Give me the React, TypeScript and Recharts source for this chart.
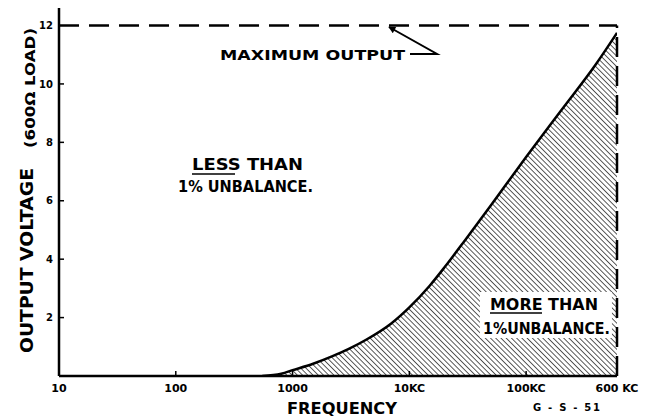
import { AreaChart, Area, XAxis, YAxis, ReferenceLine, ReferenceArea } from "recharts";

// frequency (Hz) vs max output voltage for < 1% unbalance
const FREQS = [550, 800, 1000, 1500, 2200, 3000, 4300, 7000, 10000, 15000, 20000, 30000, 50000, 100000, 200000, 400000, 600000];
const VOLTS = [0, 0.08, 0.2, 0.42, 0.68, 0.92, 1.25, 1.8, 2.35, 3.1, 3.72, 4.65, 5.85, 7.5, 9.1, 10.7, 11.75];

const X_TICKS = [10, 100, 1000, 10000, 100000, 600000];
const X_TICK_LABELS = ["10", "100", "1000", "10KC", "100KC", "600 KC"];
const Y_TICKS = [2, 4, 6, 8, 10, 12];

const MAX_OUTPUT = 12;
const MAX_FREQ = 600000;

const data = FREQS.map((f, i) => ({ f, v: VOLTS[i] }));

const FONT = "'DejaVu Sans', sans-serif";

function XTick(props: any) {
  const { x, y, payload } = props;
  const axisY = y - 8;
  const label = X_TICK_LABELS[X_TICKS.indexOf(payload.value)] ?? "";
  return (
    <g>
      {payload.value !== 10 && payload.value !== MAX_FREQ && (
        <line x1={x} x2={x} y1={axisY} y2={axisY - 5} stroke="#000" strokeWidth={1.5} />
      )}
      <text x={x} y={y} dy="0.71em" textAnchor="middle" fill="#000" fontSize={11} fontWeight={700} fontFamily={FONT}>
        {label}
      </text>
    </g>
  );
}

function YTick(props: any) {
  const { x, y, payload } = props;
  const axisX = x + 6;
  return (
    <g>
      {payload.value !== MAX_OUTPUT && (
        <line x1={axisX} x2={axisX + 5} y1={y} y2={y} stroke="#000" strokeWidth={1.5} />
      )}
      <text x={x} y={y} dy="0.36em" textAnchor="end" fill="#000" fontSize={10} fontWeight={700} fontFamily={FONT}>
        {payload.value}
      </text>
    </g>
  );
}

export default function App() {
  return (
    <div style={{ position: "absolute", left: 0, top: 0, width: 651, height: 419, background: "#fff" }}>
      <AreaChart width={651} height={419} data={data} margin={{ top: 8, right: 34, bottom: 0, left: 0 }}>
        <defs>
          <pattern id="hatch" width="3.7" height="3.7" patternUnits="userSpaceOnUse" patternTransform="rotate(-45)">
            <line x1="0" y1="0" x2="0" y2="3.7" stroke="#000" strokeWidth="1.3" />
          </pattern>
        </defs>
        <XAxis
          dataKey="f"
          type="number"
          scale="log"
          domain={[10, MAX_FREQ]}
          ticks={X_TICKS}
          height={43}
          axisLine={{ stroke: "#000", strokeWidth: 2.5 }}
          tickLine={false}
          tick={<XTick />}
          allowDataOverflow
        />
        <YAxis
          type="number"
          domain={[0, 12.6]}
          ticks={Y_TICKS}
          width={59}
          tickSize={4}
          axisLine={{ stroke: "#000", strokeWidth: 2.5 }}
          tickLine={false}
          tick={<YTick />}
          allowDataOverflow
        />
        <Area
          type="monotone"
          dataKey="v"
          stroke="#000"
          strokeWidth={2.5}
          fill="url(#hatch)"
          fillOpacity={1}
          isAnimationActive={false}
          dot={false}
          activeDot={false}
        />
        <ReferenceArea x1={40200} x2={543000} y1={1.3} y2={2.88} fill="#fff" fillOpacity={1} stroke="none" />
        <ReferenceLine
          segment={[{ x: 10, y: MAX_OUTPUT }, { x: MAX_FREQ, y: MAX_OUTPUT }]}
          stroke="#000"
          strokeWidth={2.5}
          strokeDasharray="20 10"
        />
        <ReferenceLine
          segment={[{ x: MAX_FREQ, y: 0 }, { x: MAX_FREQ, y: MAX_OUTPUT }]}
          stroke="#000"
          strokeWidth={2.5}
          strokeDasharray="20 9"
        />
      </AreaChart>

      <svg width={651} height={419} style={{ position: "absolute", left: 0, top: 0, pointerEvents: "none" }}>
        <defs>
          <marker id="arrow" viewBox="0 0 10 10" refX="9" refY="5" markerWidth="9" markerHeight="7" orient="auto" markerUnits="userSpaceOnUse">
            <path d="M0,0 L10,5 L0,10 z" fill="#000" />
          </marker>
        </defs>
        <g fontFamily={FONT} fontWeight={700} fill="#000">
          <text x={33} y={353} transform="rotate(-90 33 353)" fontSize={18} textLength={185} lengthAdjust="spacingAndGlyphs">
            OUTPUT VOLTAGE
          </text>
          <text x={35} y={148} transform="rotate(-90 35 148)" fontSize={14.5} textLength={120} lengthAdjust="spacingAndGlyphs">
            (600Ω LOAD)
          </text>
          <text x={220} y={60} fontSize={14} textLength={185} lengthAdjust="spacingAndGlyphs">MAXIMUM OUTPUT</text>
          <path d="M410,54 L437,54 L389,27" fill="none" stroke="#000" strokeWidth={2} markerEnd="url(#arrow)" />

          <text x={192} y={170} fontSize={15} textLength={111} lengthAdjust="spacingAndGlyphs">LESS THAN</text>
          <line x1={192} x2={235} y1={174} y2={174} stroke="#000" strokeWidth={1.5} />
          <text x={178} y={192} fontSize={15} textLength={135} lengthAdjust="spacingAndGlyphs">1% UNBALANCE.</text>

          <text x={490} y={310} fontSize={15} textLength={108} lengthAdjust="spacingAndGlyphs">MORE THAN</text>
          <line x1={490} x2={542} y1={313} y2={313} stroke="#000" strokeWidth={1.5} />
          <text x={483} y={334} fontSize={15} textLength={127} lengthAdjust="spacingAndGlyphs">1%UNBALANCE.</text>

          <text x={287} y={414} fontSize={15} textLength={110} lengthAdjust="spacingAndGlyphs">FREQUENCY</text>
          <text x={533} y={411} fontSize={10} textLength={67} lengthAdjust="spacing">G - S - 51</text>
        </g>
      </svg>
    </div>
  );
}
